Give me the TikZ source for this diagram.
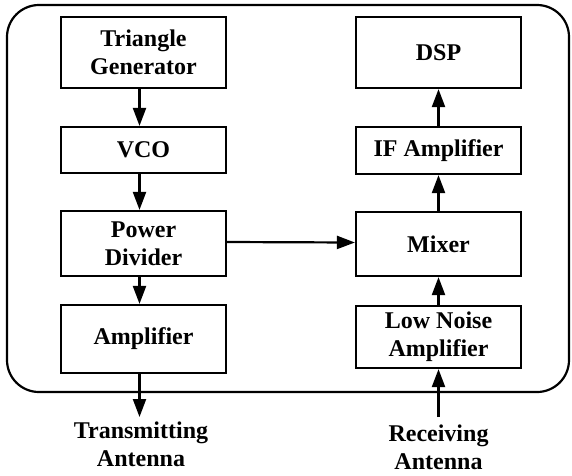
\documentclass[tikz,border=0pt]{standalone}
\usepackage{fontspec}
\setmainfont{Liberation Serif}
\usetikzlibrary{arrows.meta,calc}
\begin{document}
\begin{tikzpicture}[x=1pt,y=-1pt,
  blk/.style={draw,line width=2.2pt,minimum width=165pt,inner sep=0pt,align=center,font=\fontsize{24}{28}\selectfont\bfseries},
  lbl/.style={align=center,inner sep=0pt,font=\fontsize{24}{28}\selectfont\bfseries},
  conn/.style={line width=2.2pt,-{Triangle[length=18pt,width=13pt]}}]
\useasboundingbox (0,0) rectangle (572,475);
\draw[line width=2.2pt,rounded corners=32pt] (7,5) rectangle (569,392);
% left column
\node[blk,minimum height=71pt] (tg) at (143.5,52.5) {Triangle\\Generator};
\node[blk,minimum height=46pt] (vco) at (143.5,150) {VCO};
\node[blk,minimum height=65pt] (pd) at (143.5,243.5) {Power\\Divider};
\node[blk,minimum height=68pt] (amp) at (143.5,339) {Amplifier};
\node[lbl] (tx) at (141,444) {Transmitting\\Antenna};
\coordinate (txe) at (139.5,417);
% right column
\node[blk,minimum height=71pt] (dsp) at (438.5,52.5) {DSP};
\node[blk,minimum height=47pt] (ifa) at (438.5,150.5) {IF Amplifier};
\node[blk,minimum height=64pt] (mix) at (438.5,244) {Mixer};
\node[blk,minimum height=62pt] (lna) at (438.5,337) {Low Noise\\Amplifier};
\node[lbl] (rx) at (438.5,447) {Receiving\\Antenna};
\coordinate (rxs) at (438.5,417);
% connectors
\draw[conn] ($(tg.south)+(-4,0)$) -- ($(vco.north)+(-4,0)$);
\draw[conn] ($(vco.south)+(-4,0)$) -- ($(pd.north)+(-4,0)$);
\draw[conn] ($(pd.south)+(-4,0)$) -- ($(amp.north)+(-4,0)$);
\draw[conn] ($(amp.south)+(-4,0)$) -- (txe);
\draw[conn] ($(pd.east)+(0,-1.5)$) -- ($(mix.west)+(0,-1.5)$);
\draw[conn] (rxs) -- (lna.south);
\draw[conn] (lna.north) -- (mix.south);
\draw[conn] (mix.north) -- (ifa.south);
\draw[conn] (ifa.north) -- (dsp.south);
\end{tikzpicture}
\end{document}
